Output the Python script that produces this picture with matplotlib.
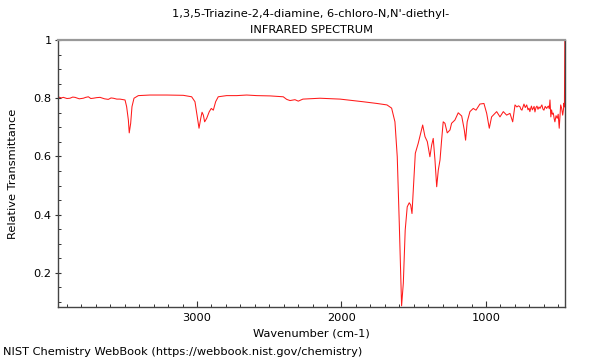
import matplotlib
matplotlib.use("Agg")
import matplotlib.pyplot as plt
from matplotlib.ticker import MultipleLocator, FixedLocator

title_line1 = "1,3,5-Triazine-2,4-diamine, 6-chloro-N,N'-diethyl-"
title_line2 = "INFRARED SPECTRUM"
x_label = "Wavenumber (cm-1)"
y_label = "Relative Transmittance"
footer = "NIST Chemistry WebBook (https://webbook.nist.gov/chemistry)"

wavenumber = [
    3962, 3940, 3925, 3900, 3879, 3860, 3844, 3815, 3787, 3770, 3752, 3735, 3718,
    3695, 3671, 3640, 3614, 3595, 3579, 3555, 3533, 3498,
    3487, 3475, 3469, 3459, 3450, 3436, 3406, 3325, 3210, 3095, 3037, 3014,
    2998, 2986, 2974, 2965, 2956, 2947, 2933, 2915, 2901, 2887, 2871, 2853,
    2795, 2725, 2656, 2587, 2495, 2403, 2379, 2356, 2322, 2299, 2267, 2149,
    2010, 1851, 1754, 1713, 1685, 1653, 1630, 1614, 1600, 1584, 1572, 1559,
    1545, 1531, 1521, 1512, 1503, 1489, 1469, 1452, 1438, 1422, 1406, 1388,
    1376, 1365, 1353, 1341, 1330, 1318, 1307, 1296, 1284, 1268, 1249, 1238,
    1215, 1192, 1168, 1150, 1141, 1130, 1111, 1088, 1069, 1042, 1014, 995,
    977, 961, 926, 903, 880, 857, 834, 815, 799, 786, 775, 765, 758, 751, 744,
    737, 728, 718, 709, 702, 696, 690, 685, 679, 673, 667, 661, 654, 647, 640,
    633, 626, 620, 613, 606, 599, 590, 580, 574, 568, 562, 557, 551, 546, 540,
    534, 528, 523, 515, 507, 500, 493, 488, 483, 476, 469, 464, 460, 457, 453.5,
]
transmittance = [
    0.805, 0.801, 0.803, 0.799, 0.800, 0.804, 0.803, 0.798, 0.800, 0.803, 0.805, 0.799, 0.800,
    0.802, 0.803, 0.798, 0.796, 0.801, 0.800, 0.797, 0.797, 0.794,
    0.771, 0.725, 0.681, 0.714, 0.771, 0.800, 0.809, 0.811, 0.811, 0.810, 0.805, 0.788,
    0.736, 0.697, 0.731, 0.752, 0.742, 0.719, 0.731, 0.754, 0.765, 0.759, 0.788, 0.805,
    0.809, 0.809, 0.811, 0.809, 0.808, 0.805, 0.796, 0.792, 0.795, 0.790, 0.797, 0.800,
    0.797, 0.788, 0.782, 0.779, 0.777, 0.766, 0.719, 0.599, 0.371, 0.087, 0.165, 0.347,
    0.427, 0.441, 0.433, 0.404, 0.485, 0.611, 0.645, 0.679, 0.708, 0.668, 0.651, 0.599,
    0.639, 0.662, 0.588, 0.496, 0.553, 0.588, 0.656, 0.719, 0.714, 0.681, 0.691, 0.714,
    0.725, 0.750, 0.739, 0.691, 0.656, 0.719, 0.754, 0.765, 0.759, 0.780, 0.782, 0.748,
    0.697, 0.736, 0.754, 0.736, 0.754, 0.742, 0.748, 0.719, 0.777, 0.770, 0.774, 0.771, 0.762, 0.759, 0.770,
    0.780, 0.768, 0.777, 0.760, 0.766, 0.754, 0.766, 0.773, 0.760, 0.765, 0.772, 0.753, 0.768, 0.773, 0.762,
    0.770, 0.765, 0.771, 0.777, 0.763, 0.759, 0.772, 0.765, 0.770, 0.773, 0.764, 0.794, 0.736, 0.760, 0.745,
    0.749, 0.730, 0.719, 0.740, 0.731, 0.745, 0.697, 0.740, 0.777, 0.765, 0.742, 0.760, 0.783, 0.770, 1.05,
]

x_major = [3000, 2000, 1000]
y_major = [0.2, 0.4, 0.6, 0.8, 1.0]
y_major_labels = ["0.2", "0.4", "0.6", "0.8", "1"]

FS = 8.2
fig = plt.figure(figsize=(6, 3.6), dpi=100)
ax = fig.add_axes([58 / 600, 1 - 307 / 360, 507 / 600, 267 / 360])

ax.plot(wavenumber, transmittance, color="#ff1a1a", lw=0.75)

ax.set_xlim(3962, 453)
ax.set_ylim(0.083, 1.0)

ax.xaxis.set_major_locator(FixedLocator(x_major))
ax.xaxis.set_minor_locator(MultipleLocator(100))
ax.set_yticks(y_major)
ax.set_yticklabels(y_major_labels)
ax.yaxis.set_minor_locator(MultipleLocator(0.05))

ax.tick_params(axis="x", which="major", direction="in", length=4, width=0.8,
               labelsize=FS, color="#333333", pad=4)
ax.tick_params(axis="x", which="minor", direction="in", length=2.5, width=0.7, color="#333333")
ax.tick_params(axis="y", which="major", direction="inout", length=5, width=0.8,
               labelsize=FS, color="#333333", pad=2)
ax.tick_params(axis="y", which="minor", direction="in", length=2.5, width=0.7, color="#333333")

for side in ["left", "bottom", "right"]:
    ax.spines[side].set_color("#444444")
    ax.spines[side].set_linewidth(1.0)
ax.spines["top"].set_color("#999999")
ax.spines["top"].set_linewidth(1.6)

ax.set_xlabel(x_label, fontsize=FS, labelpad=4)
ax.set_ylabel(y_label, fontsize=FS, labelpad=11)

fig.text(311 / 600, 1 - 14 / 360, title_line1, ha="center", va="center", fontsize=FS)
fig.text(311 / 600, 1 - 30 / 360, title_line2, ha="center", va="center", fontsize=FS)
fig.text(3 / 600, 1 - 352 / 360, footer, ha="left", va="center", fontsize=FS)

fig.savefig("out.png", dpi=100)
